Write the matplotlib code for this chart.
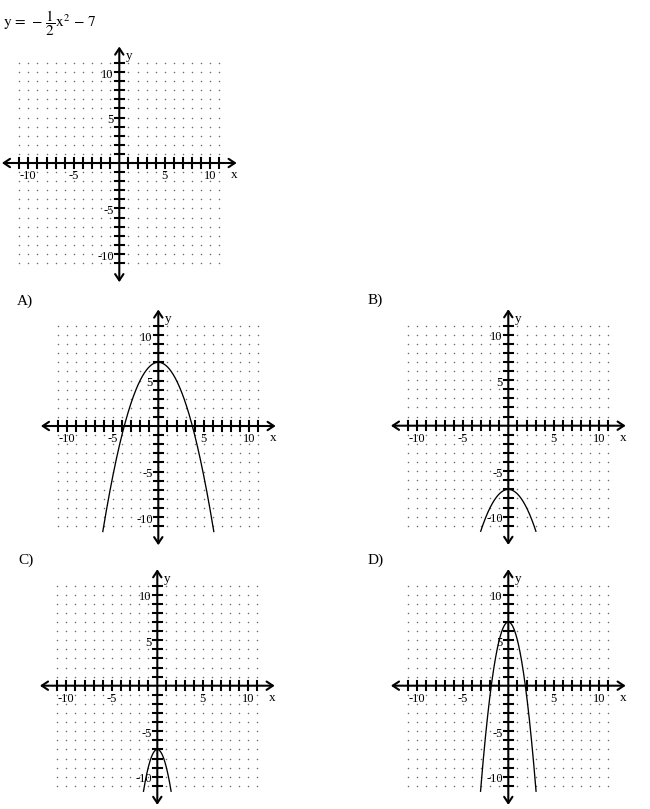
import numpy as np
import matplotlib
matplotlib.use("Agg")
import matplotlib.pyplot as plt

# ---- data ----
panel_labels = ["A)", "B)", "C)", "D)"]
a_coef = [-0.5, -0.5, -2.0, -2.0]      # y = a*x^2 + c
c_coef = [7.0, -7.0, -7.0, 7.0]
y_floor = -11.6                         # curves drawn down to this y
grid_vals = list(range(-11, 12))        # dotted grid / tick positions
x_tick_labels = [-10, -5, 5, 10]
y_tick_labels = [10, 5, -5, -10]
equation = r"$\mathrm{y}\,=\,-\,\dfrac{1}{2}\mathrm{x}^{2}\,-\,7$"

# ---- layout ----
W, H = 650, 809
U = 9.1          # pixels per unit
HALF = 13.5      # axes half-range in units
origins = {"Q": (119.3, 163.0), "A)": (158.3, 426.0), "B)": (508.3, 425.7),
           "C)": (157.3, 685.7), "D)": (508.3, 685.7)}
label_pos = {"A)": (17, 305), "B)": (368, 304), "C)": (18, 564), "D)": (368, 564)}

plt.rcParams['mathtext.fontset'] = 'stix'
SERIF = ['Liberation Serif', 'DejaVu Serif']

fig = plt.figure(figsize=(W / 100, H / 100), dpi=100)
fig.patch.set_facecolor('white')


def make_axes(ox, oy):
    left = (ox - HALF * U) / W
    bottom = 1 - (oy + HALF * U) / H
    ax = fig.add_axes([left, bottom, 2 * HALF * U / W, 2 * HALF * U / H])
    ax.set_xlim(-HALF, HALF)
    ax.set_ylim(-HALF, HALF)
    ax.axis('off')
    # dots
    gx, gy = np.meshgrid(grid_vals, grid_vals)
    ax.plot(gx.ravel(), gy.ravel(), linestyle='none', marker='o', ms=1.1,
            mec='none', mfc='#6e6e6e', zorder=1)
    # axes with arrows
    ap = dict(arrowstyle='<->,head_length=0.45,head_width=0.3', lw=1.5,
              color='black', shrinkA=0, shrinkB=0)
    ax.annotate('', xy=(12.9, 0), xytext=(-12.9, 0), arrowprops=ap, zorder=3)
    ax.annotate('', xy=(0, 12.8), xytext=(0, -13.1), arrowprops=ap, zorder=3)
    # ticks
    for v in grid_vals:
        if v == 0:
            continue
        ax.plot([v, v], [-0.5, 0.5], color='black', lw=1.5, zorder=3)
        ax.plot([-0.5, 0.5], [v, v], color='black', lw=1.5, zorder=3)
    for v in x_tick_labels:
        ax.text(v, -1.45, str(v), ha='center', va='center', fontsize=9,
                family=SERIF, zorder=4)
    for v in y_tick_labels:
        ax.text(-0.6, v - 0.3, str(v), ha='right', va='center', fontsize=9,
                family=SERIF, zorder=4)
    ax.text(0.75, 11.75, 'y', ha='left', va='center', fontsize=9.5, family=SERIF)
    ax.text(12.6, -1.35, 'x', ha='center', va='center', fontsize=9.5, family=SERIF)
    return ax


# question graph
make_axes(*origins["Q"])
fig.text(3 / W, 1 - 27 / H, equation, fontsize=11, ha='left', va='baseline')

# answer graphs
for lab, a, c in zip(panel_labels, a_coef, c_coef):
    ax = make_axes(*origins[lab])
    xmax = np.sqrt((y_floor - c) / a)
    xs = np.linspace(-xmax, xmax, 400)
    ax.plot(xs, a * xs ** 2 + c, color='black', lw=0.95, zorder=5)
    lx, ly = label_pos[lab]
    fig.text(lx / W, 1 - ly / H, lab, fontsize=11, family=SERIF,
             ha='left', va='baseline')

fig.savefig('out.png', dpi=100, facecolor='white')
